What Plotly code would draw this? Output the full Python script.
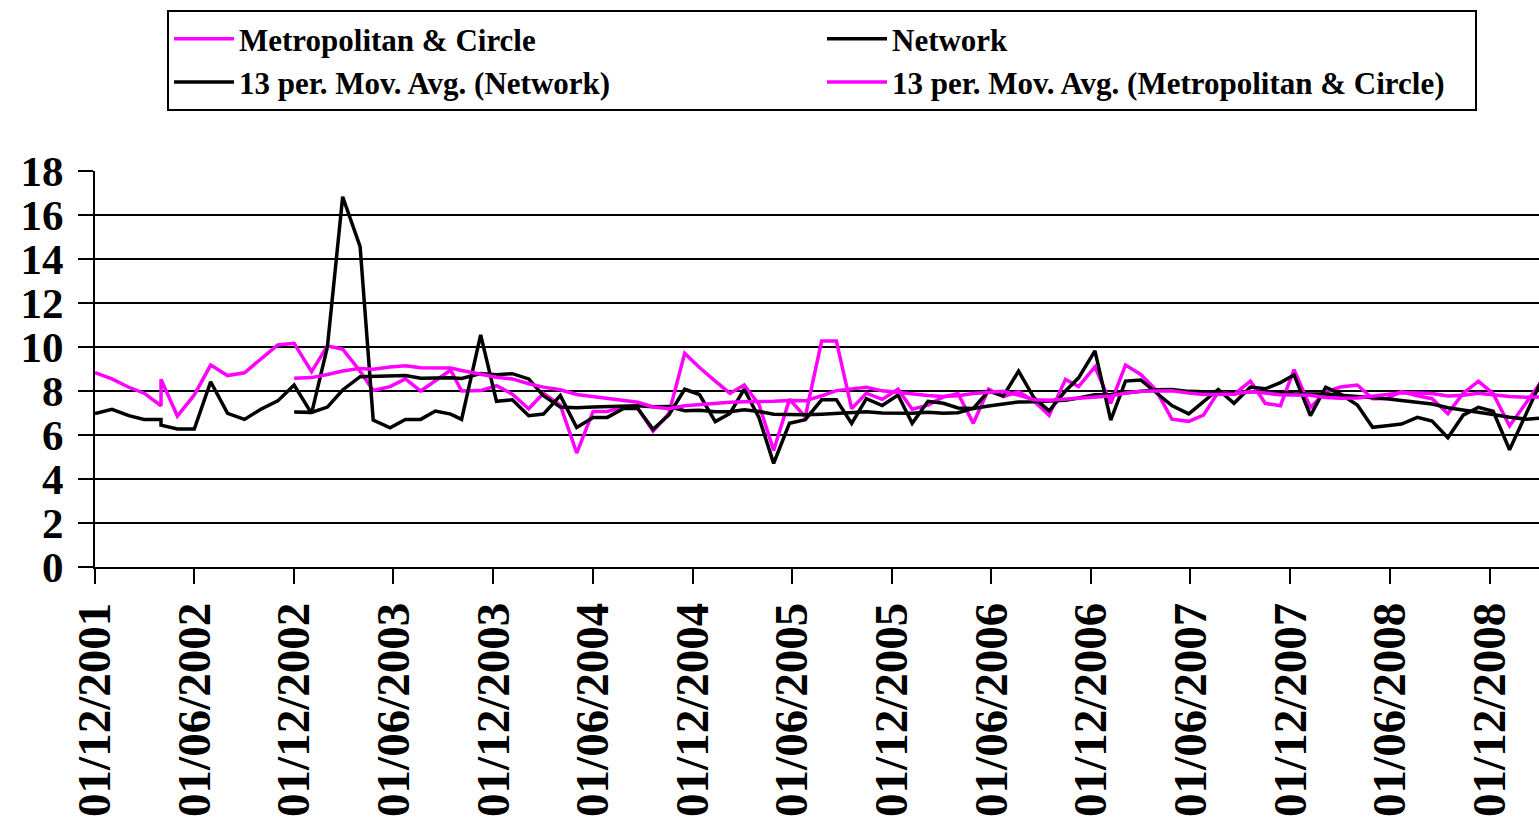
import pandas as pd
import numpy as np
import plotly.graph_objects as go

# Period dates (monthly in 2002, then 4-weekly railway periods)
dates = [
    "2001-12-01", "2002-01-01", "2002-02-01", "2002-03-01", "2002-04-01", "2002-04-01",
    "2002-05-01", "2002-06-01", "2002-07-01", "2002-08-01", "2002-09-01", "2002-10-01",
    "2002-11-01", "2002-12-01", "2003-01-02", "2003-01-31", "2003-02-28", "2003-04-01",
    "2003-04-25", "2003-05-26", "2003-06-23", "2003-07-21", "2003-08-17", "2003-09-14",
    "2003-10-04", "2003-11-08", "2003-12-07", "2004-01-05", "2004-02-04", "2004-03-02",
    "2004-04-02", "2004-05-02", "2004-06-01", "2004-06-27", "2004-07-27", "2004-08-22",
    "2004-09-19", "2004-10-18", "2004-11-16", "2004-12-13", "2005-01-11", "2005-02-07",
    "2005-03-05", "2005-04-01", "2005-04-28", "2005-05-27", "2005-06-25", "2005-07-25",
    "2005-08-21", "2005-09-18", "2005-10-15", "2005-11-13", "2005-12-12", "2006-01-07",
    "2006-02-05", "2006-03-05", "2006-04-01", "2006-04-29", "2006-05-27", "2006-06-23",
    "2006-07-21", "2006-08-18", "2006-09-15", "2006-10-15", "2006-11-08", "2006-12-08",
    "2007-01-06", "2007-02-02", "2007-03-02", "2007-03-30", "2007-04-28", "2007-05-29",
    "2007-06-25", "2007-07-22", "2007-08-20", "2007-09-19", "2007-10-16", "2007-11-13",
    "2007-12-08", "2008-01-07", "2008-02-04", "2008-03-02", "2008-04-02", "2008-04-30",
    "2008-05-26", "2008-06-22", "2008-07-21", "2008-08-17", "2008-09-15", "2008-10-13",
    "2008-11-10", "2008-12-07", "2009-01-06", "2009-02-06", "2009-03-06",
]

network = [
    6.98, 7.17, 6.88, 6.71, 6.71, 6.45, 6.27, 6.27, 8.42, 6.98, 6.71, 7.17, 7.55, 8.27,
    6.98, 10.00, 16.83, 14.56, 6.68, 6.33, 6.71, 6.71, 7.09, 6.95, 6.71, 10.55,
    7.53, 7.60, 6.88, 6.95, 7.79, 6.34, 6.80, 6.80, 7.21, 7.21, 6.26, 6.91, 8.08,
    7.84, 6.61, 6.98, 8.08, 6.80, 4.71, 6.53, 6.70, 7.60, 7.60, 6.53, 7.65, 7.34,
    7.82, 6.53, 7.53, 7.44, 7.23, 7.21, 8.00, 7.78, 8.90, 7.70, 7.10, 8.00, 8.60,
    9.82, 6.68, 8.45, 8.50, 7.95, 7.34, 6.96, 7.50, 8.07, 7.44, 8.18, 8.10, 8.38,
    8.73, 6.88, 8.17, 7.86, 7.36, 6.35, 6.42, 6.50, 6.80, 6.63, 5.88, 6.90, 7.26,
    7.08, 5.33, 6.98, 8.50,
]

metro_circle = [
    8.83, 8.55, 8.17, 7.90, 7.33, 8.53, 6.86, 7.82, 9.18, 8.70, 8.83, 9.45, 10.09, 10.17,
    8.88, 10.05, 9.90, 8.90, 8.02, 8.20, 8.55, 8.00, 8.45, 8.95, 8.00, 8.02,
    8.24, 7.86, 7.19, 7.90, 7.36, 5.18, 7.07, 7.07, 7.28, 7.21, 6.17, 6.98, 9.71,
    9.07, 8.45, 7.89, 8.27, 7.40, 5.30, 7.62, 6.83, 10.27, 10.27, 7.20, 7.90, 7.62,
    8.08, 7.17, 7.36, 7.73, 7.89, 6.53, 8.08, 7.74, 7.97, 7.55, 6.90, 8.53, 8.20,
    9.10, 7.44, 9.18, 8.75, 8.04, 6.72, 6.62, 6.90, 7.95, 7.85, 8.45, 7.44, 7.33,
    8.97, 7.25, 7.95, 8.18, 8.27, 7.65, 7.66, 7.97, 7.78, 7.65, 6.97, 7.90, 8.44,
    7.88, 6.41, 7.48, 8.46,
]

PERIODS = 13

x = pd.to_datetime(dates)


def moving_avg(vals):
    s = pd.Series(vals, dtype=float).rolling(PERIODS).mean()
    # the chart's trendline starts one period after the first full window
    s.iloc[PERIODS - 1] = np.nan
    return s


ma_network = moving_avg(network)
ma_metro = moving_avg(metro_circle)

MAGENTA = "#FF00FF"
BLACK = "#000000"
FONT = "Liberation Serif"
LW = 3.5

fig = go.Figure()
fig.add_trace(go.Scatter(x=x, y=metro_circle, mode="lines", name="Metropolitan & Circle",
                         line=dict(color=MAGENTA, width=LW)))
fig.add_trace(go.Scatter(x=x, y=network, mode="lines", name="Network",
                         line=dict(color=BLACK, width=LW)))
fig.add_trace(go.Scatter(x=x, y=ma_network, mode="lines", name="13 per. Mov. Avg. (Network)",
                         line=dict(color=BLACK, width=LW)))
fig.add_trace(go.Scatter(x=x, y=ma_metro, mode="lines",
                         name="13 per. Mov. Avg. (Metropolitan & Circle)",
                         line=dict(color=MAGENTA, width=LW)))

fig.update_layout(
    width=1539, height=825,
    margin=dict(l=95, r=0, t=171, b=258, autoexpand=False),
    paper_bgcolor="white", plot_bgcolor="white",
    font=dict(family=FONT, color="black", weight="bold"),
    showlegend=True,
    legend=dict(
        orientation="h", xref="container", yref="container",
        x=167 / 1539, y=1 - 10 / 825, xanchor="left", yanchor="top",
        font=dict(family=FONT, size=31, color="black", weight="bold"),
        bgcolor="white", bordercolor="black", borderwidth=2,
        entrywidth=578, itemwidth=60, tracegroupgap=0,
    ),
    xaxis=dict(
        type="date", range=["2001-12-01", "2009-03-01"], automargin=False,
        tick0="2001-12-01", dtick="M6", tickformat="%d/%m/%Y",
        tickangle=-90, ticks="outside", ticklen=15, tickwidth=2, tickcolor="black",
        showline=True, linecolor="black", linewidth=2, showgrid=False, zeroline=False,
        tickfont=dict(family=FONT, size=47, color="black", weight="bold"),
    ),
    yaxis=dict(
        range=[0, 18], dtick=2, tick0=0, automargin=False,
        ticks="outside", ticklen=15, tickwidth=2, tickcolor="black",
        showline=True, linecolor="black", linewidth=2, ticklabelstandoff=6,
        showgrid=True, gridcolor="black", gridwidth=1.7, zeroline=False,
        tickfont=dict(family=FONT, size=43, color="black", weight="bold"),
    ),
)

fig.write_html(
    "out.html",
    config={"displayModeBar": False},
    post_script="document.body.style.margin='0';document.body.style.padding='0';",
)
